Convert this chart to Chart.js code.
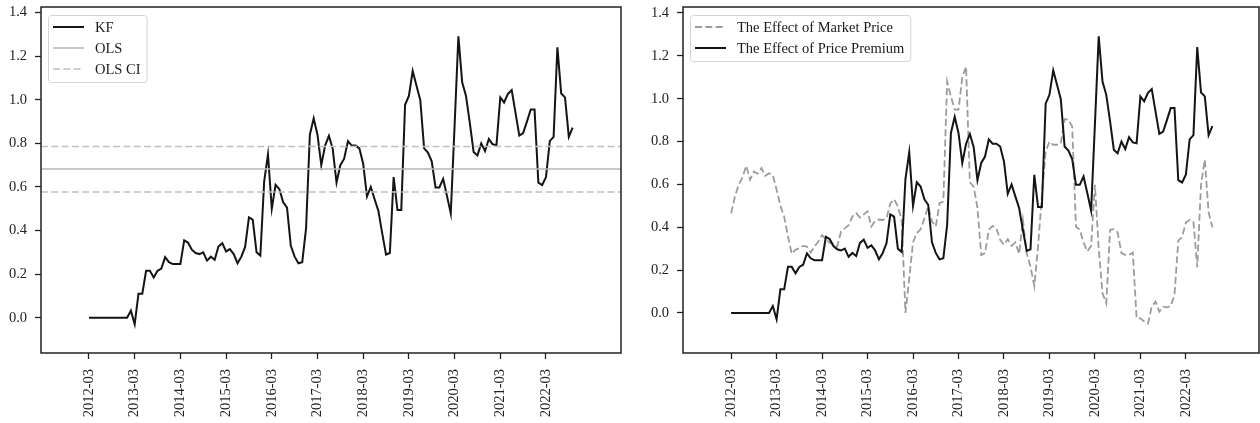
<!DOCTYPE html>
<html lang="en">
<head>
  <meta charset="UTF-8">
  <title>KF vs OLS</title>
  <style>
    body {
      margin: 0;
      background: #fff;
    }
    .wrap {
      position: relative;
      width: 1260px;
      height: 423px;
    }
    canvas {
      position: absolute;
      top: 0;
    }
    #leftChart { left: 0; }
    #rightChart { left: 640px; }
  </style>
  <script src="https://cdn.jsdelivr.net/npm/chart.js"></script>
</head>
<body>
  <div class="wrap">
    <canvas id="leftChart" width="630" height="423"></canvas>
    <canvas id="rightChart" width="620" height="423"></canvas>
  </div>

  <script>
    // monthly series, first observation 2012-03 (x = months since 2012-03)
    const kf = [
      0, 0, 0, 0, 0, 0, 0, 0, 0, 0, 0,
      0.032, -0.03, 0.11, 0.11, 0.215, 0.215, 0.185, 0.215, 0.225, 0.278,
      0.255, 0.246, 0.246, 0.246, 0.355, 0.345, 0.312, 0.297, 0.292, 0.30,
      0.262, 0.28, 0.266, 0.327, 0.342, 0.304, 0.315, 0.292, 0.25, 0.28,
      0.325, 0.46, 0.45, 0.30, 0.285, 0.625, 0.75, 0.50, 0.61, 0.59,
      0.53, 0.505, 0.33, 0.28, 0.25, 0.255, 0.41, 0.84, 0.915, 0.84,
      0.70, 0.79, 0.835, 0.775, 0.62, 0.70, 0.73, 0.81, 0.79, 0.79,
      0.777, 0.707, 0.556, 0.60, 0.544, 0.49, 0.387, 0.29, 0.297, 0.645,
      0.494, 0.494, 0.977, 1.018, 1.132, 1.065, 0.998, 0.777, 0.758, 0.718,
      0.598, 0.598, 0.637, 0.559, 0.478, 0.88, 1.291, 1.08, 1.018, 0.894,
      0.761, 0.745, 0.80, 0.765, 0.82, 0.796, 0.792, 1.011, 0.988, 1.027,
      1.045, 0.94, 0.836, 0.847, 0.90, 0.956, 0.956, 0.62, 0.609, 0.645,
      0.81, 0.83, 1.241, 1.029, 1.011, 0.83, 0.872
    ];
    const marketPrice = [
      0.465, 0.543, 0.598, 0.634, 0.687, 0.622, 0.66, 0.65, 0.676, 0.64,
      0.652, 0.645, 0.575, 0.50, 0.45, 0.357, 0.276, 0.295, 0.302, 0.313,
      0.31, 0.282, 0.31, 0.333, 0.364, 0.343, 0.328, 0.322, 0.31, 0.38,
      0.395, 0.41, 0.45, 0.466, 0.445, 0.46, 0.474, 0.403, 0.43, 0.436,
      0.434, 0.442, 0.51, 0.531, 0.497, 0.434, 0.0, 0.16, 0.33, 0.372,
      0.39, 0.442, 0.497, 0.426, 0.403, 0.512, 0.52, 1.08, 1.01, 0.949,
      0.949, 1.10, 1.15, 0.61, 0.59, 0.49, 0.27, 0.279, 0.388, 0.406,
      0.395, 0.341, 0.318, 0.344, 0.313, 0.329, 0.276, 0.434, 0.279, 0.216,
      0.126, 0.31, 0.544, 0.754, 0.80, 0.785, 0.785, 0.79, 0.905, 0.902,
      0.87, 0.403, 0.388, 0.329, 0.287, 0.313, 0.598, 0.30, 0.092, 0.045,
      0.388, 0.391, 0.376, 0.279, 0.271, 0.271, 0.282, -0.025, -0.025, -0.04,
      -0.05, 0.029, 0.053, 0.006, 0.029, 0.026, 0.032, 0.084, 0.338, 0.354,
      0.422, 0.434, 0.426, 0.213, 0.60, 0.715, 0.47, 0.40
    ];
    const olsCoef = 0.682;
    const olsLower = 0.577;
    const olsUpper = 0.786;

    const tickMonths = [0, 12, 24, 36, 48, 60, 72, 84, 96, 108, 120];
    const tickLabels = ['2012-03', '2013-03', '2014-03', '2015-03', '2016-03', '2017-03',
                        '2018-03', '2019-03', '2020-03', '2021-03', '2022-03'];
    const yTicks = [0.0, 0.2, 0.4, 0.6, 0.8, 1.0, 1.2, 1.4];

    const serif = "'Liberation Serif', 'Times New Roman', serif";
    const fontSize = 14.5;
    const dash = [7, 3.3];
    const toPoints = arr => arr.map((v, i) => ({ x: i, y: v }));

    // axes box like matplotlib spines
    const frame = {
      id: 'frame',
      afterDatasetsDraw(chart) {
        const { ctx, chartArea: a } = chart;
        ctx.save();
        ctx.strokeStyle = '#222';
        ctx.lineWidth = 1.5;
        ctx.strokeRect(a.left, a.top, a.right - a.left, a.bottom - a.top);
        ctx.restore();
      }
    };

    // legend drawn inside the plot, with a light rounded box
    const boxLegend = {
      id: 'boxLegend',
      afterDraw(chart, args, opts) {
        const { ctx, chartArea: a } = chart;
        const items = chart.data.datasets.filter(d => d.inLegend !== false);
        ctx.save();
        ctx.font = fontSize + 'px ' + serif;
        const textW = Math.max(...items.map(d => ctx.measureText(d.label).width));
        const x = a.left + opts.offsetX;
        const y = a.top + opts.offsetY;
        const w = opts.textX + textW + opts.padRight;
        const h = opts.firstRow + opts.rowHeight * (items.length - 1) + opts.lastPad;
        ctx.fillStyle = 'rgba(255,255,255,0.8)';
        ctx.strokeStyle = '#d4d4d4';
        ctx.lineWidth = 1;
        ctx.beginPath();
        ctx.roundRect(x + 0.5, y + 0.5, w, h, 3);
        ctx.fill();
        ctx.stroke();
        items.forEach((d, i) => {
          const cy = y + opts.firstRow + i * opts.rowHeight;
          ctx.strokeStyle = d.borderColor;
          ctx.lineWidth = d.borderWidth;
          ctx.setLineDash(d.borderDash || []);
          ctx.beginPath();
          ctx.moveTo(x + opts.lineX, cy);
          ctx.lineTo(x + opts.lineX + opts.lineLen, cy);
          ctx.stroke();
          ctx.setLineDash([]);
          ctx.fillStyle = '#1a1a1a';
          ctx.textBaseline = 'middle';
          ctx.fillText(d.label, x + opts.textX, cy + 1);
        });
        ctx.restore();
      }
    };

    // no automatic label padding, so the plot box sits where we ask
    const noPadding = s => {
      s.paddingTop = 0;
      s.paddingBottom = 0;
      s.paddingLeft = 0;
      s.paddingRight = 0;
    };

    function chartOptions(o) {
      const tickFont = { family: serif, size: fontSize };
      const grid = { drawOnChartArea: false, drawTicks: true, tickLength: 6, tickColor: '#222', tickWidth: 1.3 };
      return {
        responsive: false,
        animation: false,
        devicePixelRatio: 1,
        layout: { padding: { top: 7, right: o.padRight, bottom: 0, left: 0 } },
        elements: { point: { radius: 0 }, line: { tension: 0 } },
        plugins: {
          legend: { display: false },
          tooltip: { enabled: false },
          boxLegend: o.legend
        },
        scales: {
          x: {
            type: 'linear',
            min: o.xMin,
            max: o.xMax,
            grid: grid,
            border: { display: false },
            ticks: {
              font: tickFont,
              color: '#222',
              padding: 10,
              autoSkip: false,
              minRotation: 90,
              maxRotation: 90,
              callback: (v, i) => tickLabels[i]
            },
            afterBuildTicks: s => { s.ticks = tickMonths.map(v => ({ value: v })); },
            afterFit: s => { s.height = 70; noPadding(s); }
          },
          y: {
            min: o.yMin,
            max: o.yMax,
            grid: grid,
            border: { display: false },
            ticks: {
              font: tickFont,
              color: '#222',
              padding: 8,
              callback: v => v.toFixed(1)
            },
            afterBuildTicks: s => { s.ticks = yTicks.map(v => ({ value: v })); },
            afterFit: s => { s.width = o.yWidth; noPadding(s); }
          }
        }
      };
    }

    const leftX = [-12.6, 139.7];
    new Chart(document.getElementById('leftChart'), {
      type: 'line',
      data: {
        datasets: [
          { label: 'KF', data: toPoints(kf), borderColor: '#141414', borderWidth: 2, order: 3 },
          { label: 'OLS', data: leftX.map(x => ({ x, y: olsCoef })), borderColor: '#b4b4b4', borderWidth: 1.5, order: 2 },
          { label: 'OLS CI', data: leftX.map(x => ({ x, y: olsUpper })), borderColor: '#c0c0c0', borderWidth: 1.6, borderDash: dash, order: 1 },
          { label: 'OLS CI', inLegend: false, data: leftX.map(x => ({ x, y: olsLower })), borderColor: '#c0c0c0', borderWidth: 1.6, borderDash: dash, order: 1 }
        ]
      },
      options: chartOptions({
        xMin: leftX[0], xMax: leftX[1], yMin: -0.162, yMax: 1.426, yWidth: 41, padRight: 9,
        legend: { offsetX: 7, offsetY: 8, firstRow: 12, rowHeight: 21, lastPad: 13, lineX: 5, lineLen: 31, textX: 47, padRight: 6 }
      }),
      plugins: [frame, boxLegend]
    });

    new Chart(document.getElementById('rightChart'), {
      type: 'line',
      data: {
        datasets: [
          { label: 'The Effect of Market Price', data: toPoints(marketPrice), borderColor: '#9c9c9c', borderWidth: 1.8, borderDash: dash, order: 2 },
          { label: 'The Effect of Price Premium', data: toPoints(kf), borderColor: '#141414', borderWidth: 2, order: 1 }
        ]
      },
      options: chartOptions({
        xMin: -12.7, xMax: 139.3, yMin: -0.187, yMax: 1.428, yWidth: 43, padRight: 1,
        legend: { offsetX: 7, offsetY: 8, firstRow: 12, rowHeight: 21, lastPad: 13, lineX: 5, lineLen: 31, textX: 47, padRight: 6 }
      }),
      plugins: [frame, boxLegend]
    });
  </script>
</body>
</html>
